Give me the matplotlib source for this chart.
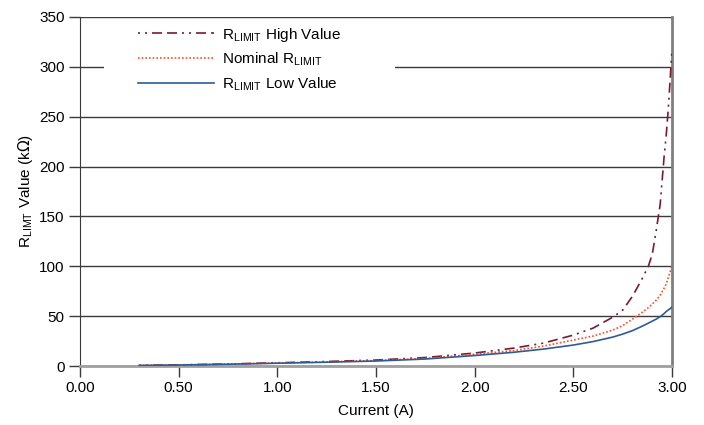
import matplotlib
matplotlib.use("Agg")
import matplotlib.pyplot as plt
from matplotlib.ticker import FormatStrFormatter
from matplotlib.patches import Rectangle

plt.rcParams['font.family'] = ['Liberation Sans', 'DejaVu Sans']
plt.rcParams['font.size'] = 11

# values (current in A, resistance in kOhm)
current = [0.3, 0.5, 0.75, 1.0, 1.25, 1.5, 1.75, 2.0, 2.2, 2.35, 2.5, 2.6,
           2.7, 2.75, 2.8, 2.85, 2.88, 2.9, 2.92, 2.94, 2.96, 2.97, 2.98, 2.99, 3.0]
r_high = [0.7, 1.1, 2.0, 3.2, 4.5, 6.0, 8.5, 13.0, 18.0, 23.0, 31.0, 38.0,
          49.0, 56.0, 70.0, 88.0, 100.0, 112.0, 136.0, 162.0, 210.0, 230.0, 255.0, 285.0, 318.0]
r_nom = [0.6, 1.0, 1.9, 3.0, 4.1, 5.5, 7.6, 11.8, 15.5, 20.0, 26.0, 30.0,
         36.0, 40.5, 47.0, 54.0, 58.5, 62.0, 66.0, 71.0, 78.0, 82.0, 88.0, 94.0, 100.0]
r_low = [0.6, 1.0, 1.8, 2.8, 3.8, 5.0, 7.0, 10.5, 13.8, 17.0, 21.0, 24.5,
         29.0, 32.0, 35.5, 40.0, 43.0, 45.0, 47.0, 49.5, 52.5, 54.5, 56.0, 57.5, 59.0]

labels = [r"R$_\mathregular{LIMIT}$ High Value",
          r"Nominal R$_\mathregular{LIMIT}$",
          r"R$_\mathregular{LIMIT}$ Low Value"]

fig = plt.figure(figsize=(7.04, 4.25), dpi=100)
ax = fig.add_axes([80/704, 1-366/425, 592/704, 349/425])

ax.plot(current, r_high, color='#7a1a30', lw=1.2, dashes=[1.2, 3, 1.2, 3, 6, 3, 6, 3],
        label=labels[0], zorder=3)
ax.plot(current, r_nom, color='#f4502a', lw=1.2, linestyle=(0, (1, 1.2)), label=labels[1], zorder=3)
ax.plot(current, r_low, color='#2d5b96', lw=1.2, label=labels[2], zorder=3)

ax.set_xlim(0, 3.0)
ax.set_ylim(0, 350)
ax.set_xticks([0, 0.5, 1.0, 1.5, 2.0, 2.5, 3.0])
ax.set_yticks(range(0, 351, 50))
ax.xaxis.set_major_formatter(FormatStrFormatter('%.2f'))

ax.yaxis.grid(True, color='#3a3a3a', lw=1.0)
ax.set_axisbelow(True)

# white box behind the legend hides the gridline
ax.add_patch(Rectangle((24/592, 0.762), 291/592, 0.215, transform=ax.transAxes,
                       facecolor='white', edgecolor='none', zorder=2))

ax.spines['top'].set_visible(False)
ax.spines['left'].set_color('#3a3a3a')
ax.spines['bottom'].set_color('#a0a0a0')
ax.spines['bottom'].set_linewidth(2)
ax.spines['right'].set_color('#808080')
ax.spines['right'].set_linewidth(2)

ax.tick_params(axis='y', direction='out', length=8, width=1, color='#3a3a3a', pad=3)
ax.tick_params(axis='x', direction='out', length=8, width=1, color='#3a3a3a', pad=3)

ax.set_xlabel("Current (A)", labelpad=6)
ax.set_ylabel(r"R$_\mathregular{LIMT}$ Value (k$\Omega$)", labelpad=3)

leg = ax.legend(loc='upper left', bbox_to_anchor=(58/592, 0.975), frameon=False,
                handlelength=5.0, labelspacing=0.45, borderpad=0, borderaxespad=0,
                handletextpad=0.5, fontsize=11)
leg.set_zorder(4)

fig.savefig("out.png", dpi=100)
